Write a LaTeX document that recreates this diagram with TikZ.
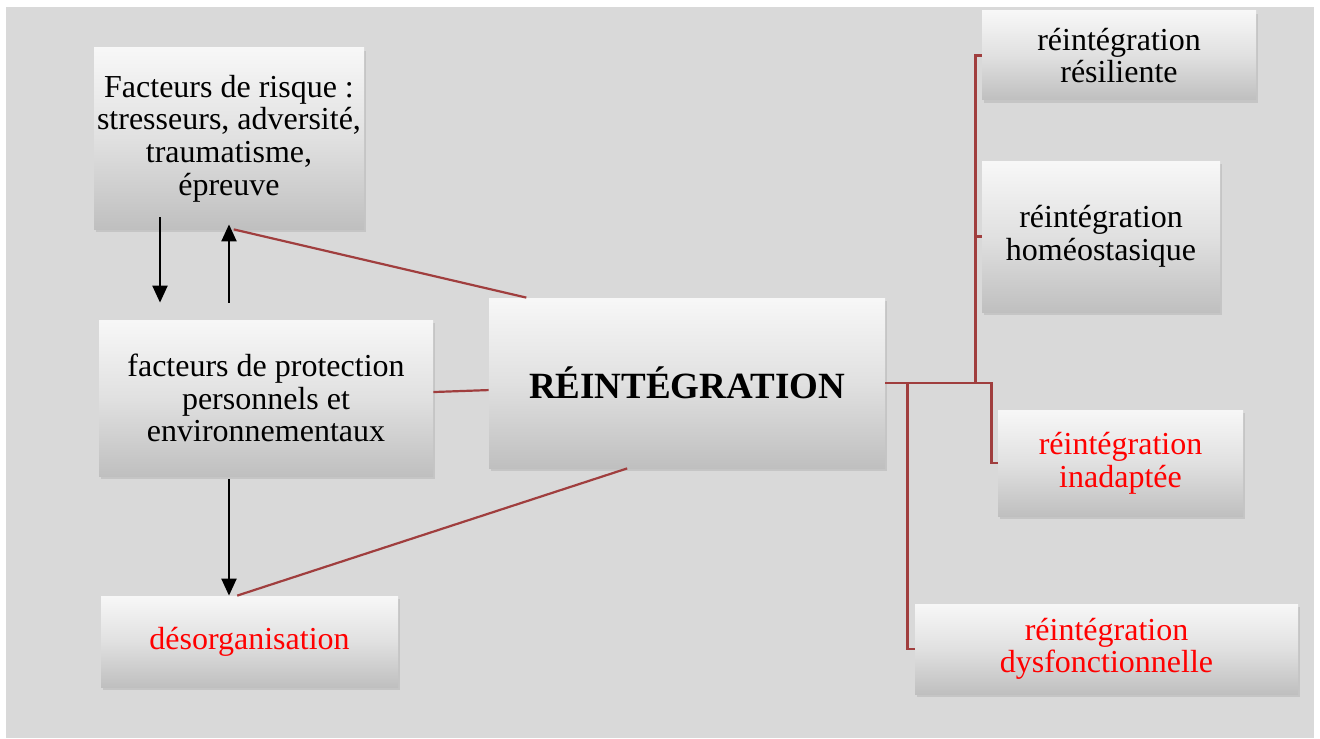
\documentclass[tikz,border=0pt]{standalone}
\usepackage{fontspec}
\setmainfont{Liberation Serif}
\usetikzlibrary{arrows.meta, shadows}
\definecolor{bggray}{RGB}{217,217,217}
\definecolor{linkred}{RGB}{160,62,62}

\begin{document}
\begin{tikzpicture}[
                x=0.5pt, y=-0.5pt,
                >={Triangle[length=8.5pt, width=7.5pt]},
                card/.style={rectangle, inner sep=1pt, align=center,
                    top color=white!97!black, bottom color=black!25, middle color=white!88!black,
                    drop shadow={shadow xshift=1.2pt, shadow yshift=-1.5pt, opacity=0.22},
                    font=\fontsize{16}{16.3}\selectfont},
                warn/.style={text=red},
                link/.style={draw=linkred, line width=1.1pt},
                arr/.style={->, line width=1.1pt}
            ]
                \useasboundingbox (0, 0) rectangle (1320, 738);
                \fill[bggray] (6, 7) rectangle (1314, 738);
                \node[card, minimum width=135pt, minimum height=90.5pt] (risk) at (229, 138.5)
                    {Facteurs de risque :\\stresseurs, adversité,\\traumatisme,\\épreuve};
                \node[card, minimum width=167pt, minimum height=78pt] (protect) at (266, 398)
                    {facteurs de protection\\personnels et\\environnementaux};
                \node[card, minimum width=198pt, minimum height=85pt,
                    font=\fontsize{18.5}{20}\selectfont\bfseries] (reint) at (687, 383) {RÉINTÉGRATION};
                \node[card, warn, minimum width=148.5pt, minimum height=45.5pt] (desorg) at (249.5, 641.5)
                    {désorganisation};
                \node[card, minimum width=137pt, minimum height=44.5pt] (resil) at (1119, 55.5)
                    {réintégration\\résiliente};
                \node[card, minimum width=119pt, minimum height=75.5pt] (homeo) at (1101, 236.5)
                    {réintégration\\homéostasique};
                \node[card, warn, minimum width=122.5pt, minimum height=53pt] (inadapt) at (1120.5, 463)
                    {réintégration\\inadaptée};
                \node[card, warn, minimum width=191.5pt, minimum height=45pt] (dysf) at (1106.5, 649)
                    {réintégration\\dysfonctionnelle};
                % liens vers le centre
                \path (risk.-87) edge[link] (reint.152)
                (protect) edge[link] (reint)
                (reint.-125) edge[link] (desorg.105);
                % issues de la reintegration
                \coordinate (hub) at ([xshift=45pt]reint.east);
                \draw[link] (reint.east) -- (hub) |- (resil.west);
                \draw[link] (hub) |- (homeo.west);
                \draw[link] (hub) -- ++(16, 0) |- (inadapt.west);
                \draw[link] ([xshift=11pt]reint.east) |- (dysf.west);
                % fleches
                \draw[arr, shorten >=8.5pt] ([yshift=6pt]risk.south -| 160, 0) -- (protect.north -| 160, 0);
                \draw[arr, shorten <=8.5pt] (protect.north -| risk.south) -- ([yshift=2.5pt]risk.south);
                \draw[arr, shorten <=1.5pt] (protect.south -| risk.south) -- (desorg.north -| risk.south);
            \end{tikzpicture}
\end{document}
